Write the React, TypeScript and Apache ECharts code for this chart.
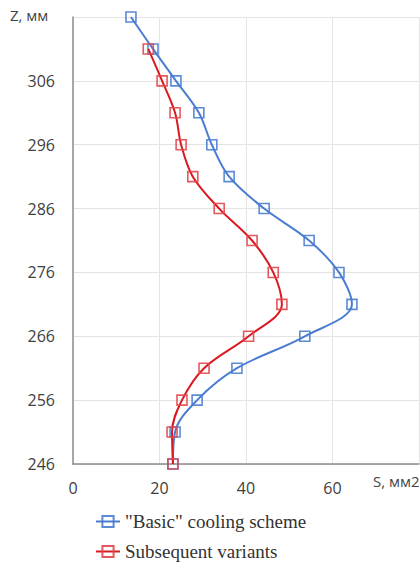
import React, { useEffect, useRef } from "react";
import * as echarts from "echarts";

const basicS = [13.4, 18.5, 23.8, 29.1, 32.1, 36.1, 44.2, 54.6, 61.5, 64.5, 53.6, 37.9, 28.7, 23.6, 23.1];
const basicZ = [316, 311, 306, 301, 296, 291, 286, 281, 276, 271, 266, 261, 256, 251, 246];
const subsS = [17.4, 20.6, 23.6, 25.0, 27.7, 33.8, 41.4, 46.3, 48.3, 40.6, 30.3, 25.2, 22.9, 23.1];
const subsZ = [311, 306, 301, 296, 291, 286, 281, 276, 271, 266, 261, 256, 251, 246];

const BLUE = "#4a7dd1";
const RED = "#d91820";

export default function App() {
  const ref = useRef<HTMLDivElement>(null);
  useEffect(() => {
    if (!ref.current) return;
    const chart = echarts.init(ref.current, undefined, { renderer: "svg" });
    const sans = "Open Sans";
    chart.setOption({
      animation: false,
      backgroundColor: "#fff",
      grid: { left: 73, right: 1, top: 17, bottom: 99, containLabel: false },
      xAxis: {
        type: "value",
        min: 0,
        max: 80,
        interval: 20,
        axisLine: { show: true, lineStyle: { color: "#8c8c8c", width: 1.5 } },
        axisTick: { show: false },
        axisLabel: {
          showMaxLabel: false,
          color: "#404040",
          fontFamily: sans,
          fontSize: 16,
          margin: 16,
        },
        splitLine: { show: true, lineStyle: { color: "#e4e4e4", width: 1 } },
      },
      yAxis: {
        type: "value",
        min: 246,
        max: 316,
        interval: 10,
        axisLine: { show: true, lineStyle: { color: "#8c8c8c", width: 1.5 } },
        axisTick: { show: false },
        axisLabel: {
          showMaxLabel: false,
          color: "#404040",
          fontFamily: sans,
          fontSize: 16,
          margin: 18,
        },
        splitLine: { show: true, lineStyle: { color: "#e4e4e4", width: 1 } },
      },
      legend: {
        orient: "vertical",
        left: 95,
        top: 511,
        height: 80,
        padding: 0,
        itemWidth: 24,
        itemHeight: 14,
        itemGap: 9,
        textStyle: { fontFamily: "Liberation Serif", fontSize: 19, lineHeight: 21, color: "#333" },
        data: ['"Basic" cooling scheme', "Subsequent variants"],
      },
      graphic: [
        {
          type: "text",
          left: 10,
          top: 7,
          style: { text: "Z, мм", fontFamily: sans, fontSize: 15, fill: "#444" },
        },
        {
          type: "text",
          left: 373,
          top: 473,
          style: { text: "S, мм2", fontFamily: sans, fontSize: 15, fill: "#444" },
        },
      ],
      series: [
        {
          name: '"Basic" cooling scheme',
          type: "line",
          smooth: 0.35,
          data: basicS.map((s, i) => [s, basicZ[i]]),
          symbol: "rect",
          symbolSize: 10,
          lineStyle: { color: BLUE, width: 2 },
          itemStyle: { color: "rgba(255,255,255,0)", borderColor: BLUE, borderWidth: 1.6, opacity: 0.9 },
          z: 2,
        },
        {
          name: "Subsequent variants",
          type: "line",
          smooth: 0.35,
          data: subsS.map((s, i) => [s, subsZ[i]]),
          symbol: "rect",
          symbolSize: 10,
          lineStyle: { color: RED, width: 2 },
          itemStyle: { color: "rgba(255,255,255,0)", borderColor: "#e2474d", borderWidth: 1.6, opacity: 0.9 },
          z: 3,
        },
      ],
    });
    return () => chart.dispose();
  }, []);
  return <div ref={ref} style={{ width: 420, height: 563, position: "absolute", left: 0, top: 0 }} />;
}
